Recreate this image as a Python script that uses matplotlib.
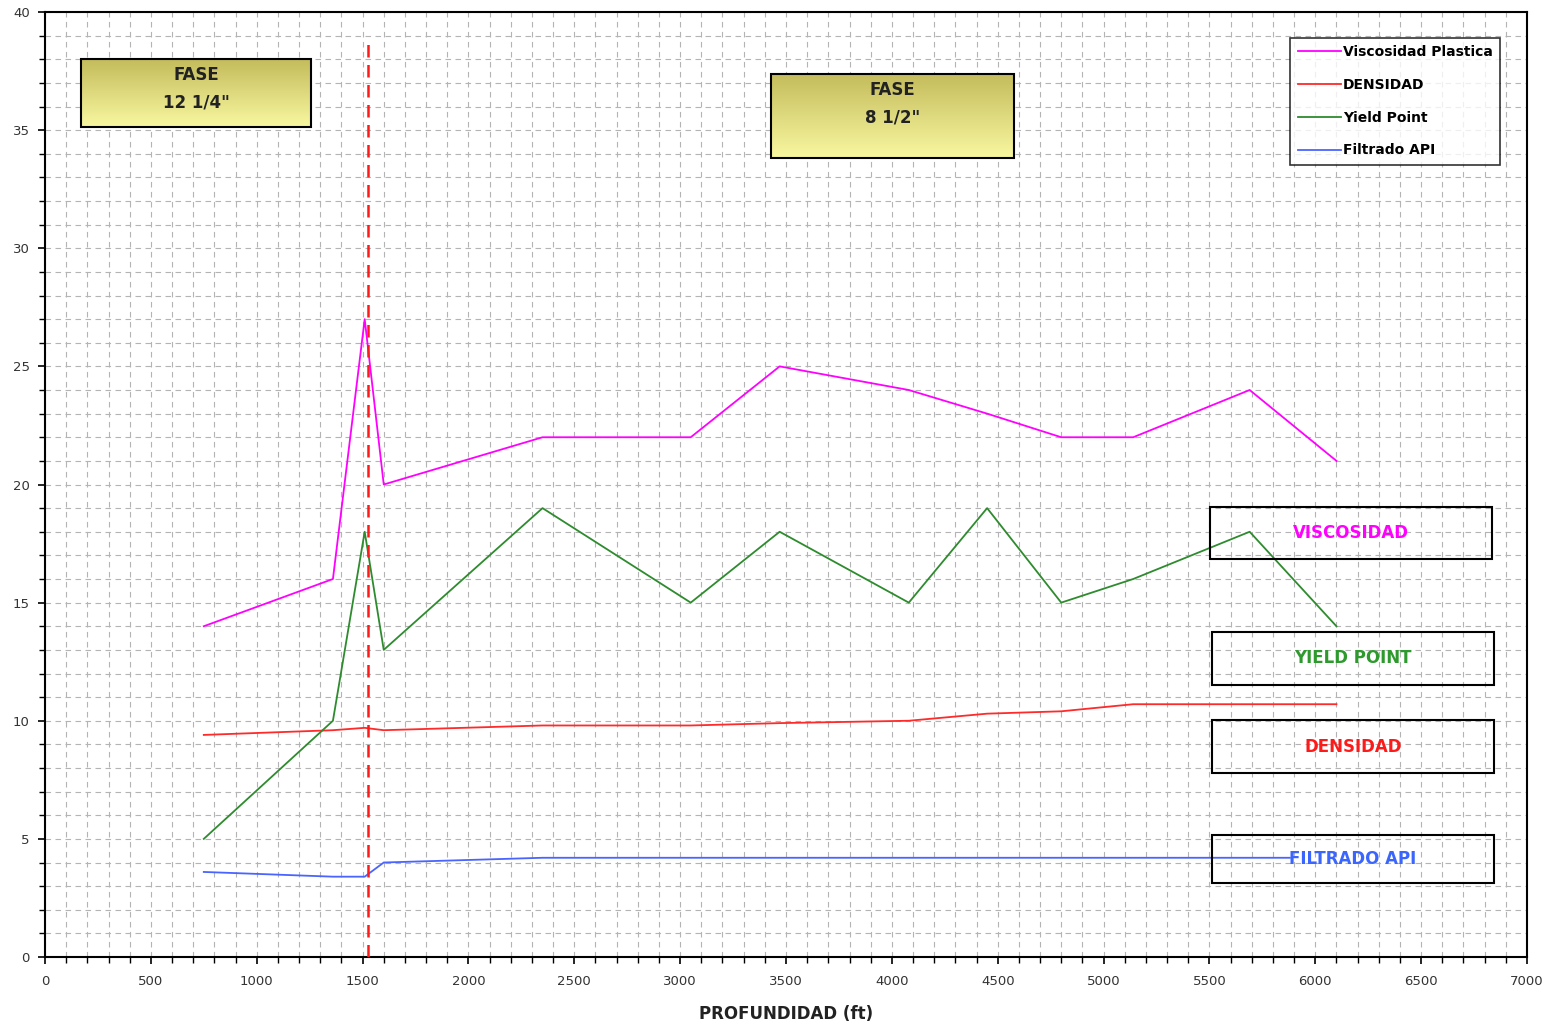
import numpy as np
import matplotlib
matplotlib.use("Agg")
import matplotlib.pyplot as plt
from matplotlib.patches import Rectangle
from matplotlib.ticker import MultipleLocator
from matplotlib.colors import LinearSegmentedColormap

depth = [750, 1360, 1510, 1600, 2350, 3050, 3470, 4080, 4450, 4800, 5140, 5690, 6100]
visc = [14, 16, 27, 20, 22, 22, 25, 24, 23, 22, 22, 24, 21]
yield_pt = [5, 10, 18, 13, 19, 15, 18, 15, 19, 15, 16, 18, 14]
dens = [9.4, 9.6, 9.7, 9.6, 9.8, 9.8, 9.9, 10.0, 10.3, 10.4, 10.7, 10.7, 10.7]
filt_depth = [750, 1360, 1510, 1600, 2350, 3050, 3470, 4080, 4450, 4800, 5140, 5690, 5880]
filt = [3.6, 3.4, 3.4, 4.0, 4.2, 4.2, 4.2, 4.2, 4.2, 4.2, 4.2, 4.2, 4.2]
casing_depth = 1525
phase_labels = ['FASE\n12 1/4"', 'FASE\n8 1/2"']
series_labels = ["VISCOSIDAD", "YIELD POINT", "DENSIDAD", "FILTRADO API"]

plt.rcParams['font.family'] = ['DejaVu Sans']
fig = plt.figure(figsize=(15.52, 10.32), dpi=100)
ax = fig.add_axes([45/1552, 75/1032, 1482/1552, 945/1032])

ax.set_xlim(0, 7000)
ax.set_ylim(0, 40)
ax.xaxis.set_major_locator(MultipleLocator(500))
ax.xaxis.set_minor_locator(MultipleLocator(100))
ax.yaxis.set_major_locator(MultipleLocator(5))
ax.yaxis.set_minor_locator(MultipleLocator(1))
ax.grid(which='both', color='#b4b4b4', linestyle=(0, (5, 4)), linewidth=0.8)
ax.set_axisbelow(True)
ax.tick_params(which='both', direction='out', color='black', labelsize=9.5, labelcolor='#333333')
ax.tick_params(axis='x', which='both', pad=8)
ax.tick_params(axis='y', which='both', pad=6)
ax.tick_params(which='major', length=5, width=1.2)
ax.tick_params(which='minor', length=4, width=1.0)
for s in ax.spines.values():
    s.set_linewidth(1.5)

ax.plot(depth, visc, color='#ff00ff', lw=1.3, label='Viscosidad Plastica', zorder=3)
ax.plot(depth, dens, color='#ff2a2a', lw=1.3, label='DENSIDAD', zorder=3)
ax.plot(depth, yield_pt, color='#2e8b2e', lw=1.3, label='Yield Point', zorder=3)
ax.plot(filt_depth, filt, color='#4a64ff', lw=1.3, label='Filtrado API', zorder=3)

ax.plot([casing_depth, casing_depth], [0, 38.9], color='#ff1a1a', lw=1.8,
        linestyle=(0, (5, 3)), zorder=4)

grad = np.linspace(0, 1, 64).reshape(-1, 1)
cmap = LinearSegmentedColormap.from_list('g', ['#f8f7a0', '#c4bc5c'])
for (x0, x1, y0, y1), lab in zip([(170, 1256, 35.13, 38.0), (3429, 4577, 33.82, 37.38)], phase_labels):
    ax.imshow(grad, extent=(x0, x1, y0, y1), origin='lower', cmap=cmap,
              aspect='auto', zorder=5)
    ax.add_patch(Rectangle((x0, y0), x1 - x0, y1 - y0, fill=False, ec='black', lw=1.5, zorder=6))
    ax.text((x0 + x1) / 2, y1 - 0.3, lab, ha='center', va='top', fontsize=12,
            fontweight='bold', color='#222222', linespacing=1.65, zorder=7)

box_colors = ['#ff00ff', '#2e9a2e', '#ff1a1a', '#3a66ff']
boxes = [(5503, 6835, 16.85, 19.05), (5512, 6845, 11.51, 13.76),
         (5512, 6845, 7.79, 10.03), (5512, 6845, 3.13, 5.16)]
for (x0, x1, y0, y1), lab, c in zip(boxes, series_labels, box_colors):
    ax.add_patch(Rectangle((x0, y0), x1 - x0, y1 - y0, fill=False, ec='black', lw=1.5, zorder=6))
    ax.text((x0 + x1) / 2, (y0 + y1) / 2, lab, ha='center', va='center', fontsize=12,
            fontweight='bold', color=c, zorder=7)

ax.set_xlim(0, 7000)
ax.set_ylim(0, 40)

leg = ax.legend(loc='upper right', bbox_to_anchor=(0.982, 0.973),
                prop={'weight': 'bold', 'size': 10}, frameon=True, fancybox=False,
                edgecolor='black', handlelength=3.1, handletextpad=0.15,
                labelspacing=1.35, borderpad=0.55, borderaxespad=0.0)
leg.get_frame().set_linewidth(1.2)
leg.set_zorder(10)

ax.set_xlabel('PROFUNDIDAD (ft)', fontsize=12, fontweight='bold', color='#222222', labelpad=12)

fig.savefig('out.png', dpi=100)
